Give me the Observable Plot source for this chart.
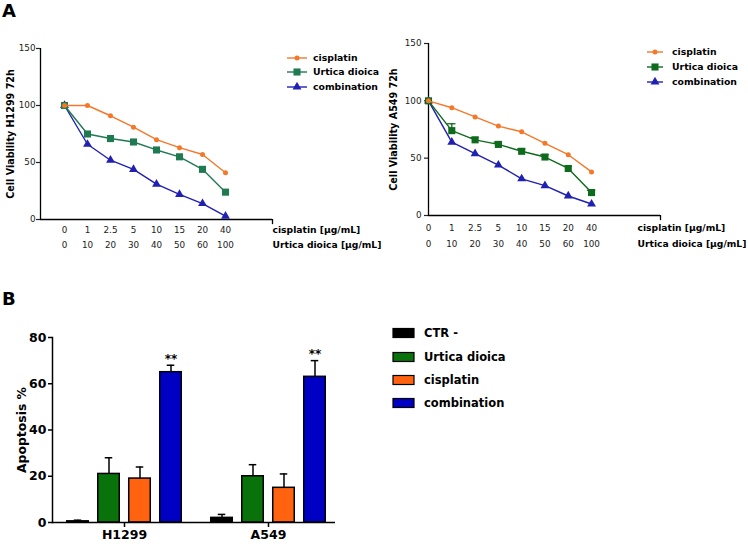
<!DOCTYPE html>
<html><head><meta charset="utf-8">
<script src="https://cdn.jsdelivr.net/npm/d3@7"></script>
<script src="https://cdn.jsdelivr.net/npm/@observablehq/plot@0.6"></script>
<style>
body{margin:0;background:#fff;}
#fig{position:relative;width:748px;height:549px;overflow:hidden;font-family:"DejaVu Sans",sans-serif;background:#fff;}
#fig > svg{position:absolute;overflow:visible;}
</style></head><body><div id="fig"></div>
<script>
// ---------- data ----------
const cisplatinDoses = ["0","1","2.5","5","10","15","20","40"];
const urticaDoses = ["0","10","20","30","40","50","60","100"];
const seriesNames = ["cisplatin","Urtica dioica","combination"];

const h1299Cisplatin   = [100,100,91,81,70,63,57,41];
const h1299Urtica      = [100,75,71,68,61,55,44,24];
const h1299Combination = [100,66,52,44,31,22,14,3];

const a549Cisplatin    = [100,94,86,78,73,63,53,38];
const a549Urtica       = [100,74,66,62,56,51,41,20];
const a549UrticaErr    = [0,6,2,2,2,2,2,2];
const a549Combination  = [100,64,54,44,32,26,17,10];

const cellLines  = ["H1299","A549"];
const treatments = ["CTR -","Urtica dioica","cisplatin","combination"];
const apoptosisH1299    = [0.5,21,19,65];
const apoptosisH1299Err = [0.5,7,5,3];
const apoptosisA549     = [2,20,15,63];
const apoptosisA549Err  = [1.5,5,6,7];
const significance = ["","","","**"];

// ---------- styling ----------
const FONT = "DejaVu Sans";
const orange = "#f5782a", blue = "#2020b2";
const barColors = ["#000000","#0a720a","#ff6310","#0000c4"];

const fig = document.getElementById("fig");

function place(el, left, top) {
  el.style.left = left + "px"; el.style.top = top + "px";
  fig.appendChild(el);
}

function viabilityPlot(o) {
  const idx = cisplatinDoses.map((_, i) => i);
  const ser = [
    {name:"combination", vals:o.comb, color:blue, symbol:"triangle", r:3.3},
    {name:"Urtica dioica", vals:o.urt, color:o.green, symbol:"square", r:4.0, err:o.urtErr},
    {name:"cisplatin", vals:o.cis, color:orange, symbol:"circle", r:2.5}
  ];
  const marks = [];
  for (const s of ser) {
    const rows = s.vals.map((v, i) => ({i, v, e: s.err ? s.err[i] : 0}));
    if (s.err) {
      const er = rows.filter(d => d.e > 0);
      marks.push(Plot.ruleX(er, {x:"i", y1:"v", y2:d => d.v + d.e, stroke:s.color, strokeWidth:1.3}));
      marks.push(Plot.ruleY(er, {x1:d => d.i - 0.18, x2:d => d.i + 0.18, y:d => d.v + d.e, stroke:s.color, strokeWidth:1.3}));
    }
    marks.push(Plot.line(rows, {x:"i", y:"v", stroke:s.color, strokeWidth:1.4}));
    marks.push(Plot.dot(rows, {x:"i", y:"v", fill:s.color, symbol:s.symbol, r:s.r}));
  }
  return Plot.plot({
    width:o.width, height:260,
    marginLeft:o.ml, marginRight:o.mr, marginTop:o.mt, marginBottom:o.mb,
    style:{fontFamily:FONT, background:"transparent", overflow:"visible"},
    x:{domain:o.xDomain, axis:null},
    y:{domain:[0,150], axis:null},
    marks:[
      Plot.ruleY([0], {stroke:"#000", strokeWidth:1.3}),
      Plot.ruleX([o.xDomain[0]], {y1:0, y2:150, stroke:"#000", strokeWidth:1.3}),
      Plot.ruleX([o.xDomain[1]], {y1:0, y2:-4.5, stroke:"#000", strokeWidth:1.3}),
      Plot.axisY({ticks:[0,50,100,150], tickSize:4, tickPadding:o.tp, fontSize:8.8, label:null, color:"#222", strokeWidth:1.2}),
      Plot.text(idx, {x:d => d, text:d => cisplatinDoses[d], frameAnchor:"bottom", dy:o.row1, fontSize:8.8, fill:"#222"}),
      Plot.text(idx, {x:d => d, text:d => urticaDoses[d], frameAnchor:"bottom", dy:o.row2, fontSize:8.8, fill:"#222"}),
      Plot.text(["cisplatin [µg/mL]"], {frameAnchor:"bottom-right", dx:o.tdx, dy:o.row1, textAnchor:"start", fontWeight:"bold", fontSize:9.2}),
      Plot.text(["Urtica dioica [µg/mL]"], {frameAnchor:"bottom-right", dx:o.tdx, dy:o.row2, textAnchor:"start", fontWeight:"bold", fontSize:9.2}),
      Plot.text([o.yLabel], {frameAnchor:"left", textAnchor:"middle", rotate:-90, dx:-o.lo, fontWeight:"bold", fontSize:9.6}),
      ...marks
    ]
  });
}

place(viabilityPlot({
  width:380, ml:40, mr:108, mt:48, mb:41, xDomain:[-1.043, 9.043], tp:1,
  row1:13, row2:28, tdx:0, lo:30, green:"#1f7a52",
  yLabel:"Cell Viability H1299 72h",
  cis:h1299Cisplatin, urt:h1299Urtica, comb:h1299Combination
}), 0, 0);

place(viabilityPlot({
  width:378, ml:58, mr:88, mt:43, mb:45, xDomain:[0, 9.96], tp:3,
  row1:15, row2:31, tdx:-23, lo:35, green:"#0e6a1c",
  yLabel:"Cell Viability A549 72h",
  cis:a549Cisplatin, urt:a549Urtica, urtErr:a549UrticaErr, comb:a549Combination
}), 370, 0);

// ---------- panel B ----------
const apo = [];
cellLines.forEach((g, gi) => {
  const vals = gi === 0 ? apoptosisH1299 : apoptosisA549;
  const errs = gi === 0 ? apoptosisH1299Err : apoptosisA549Err;
  treatments.forEach((t, k) => apo.push({group:g, treatment:t, k, value:vals[k], err:errs[k], sig:significance[k]}));
});
const bWidth = 380, bML = 52, bMR = 45;
const xPad = {paddingInner:0.1, paddingOuter:0.026, align:0.77};
const bandW = d3.scaleBand(cellLines, [bML, bWidth - bMR]).paddingInner(xPad.paddingInner).paddingOuter(xPad.paddingOuter).bandwidth();
const barW = 22, barStep = 31, capW = 8;
const barMarks = [];
treatments.forEach((t, k) => {
  const rows = apo.filter(d => d.k === k);
  const dx = (k - 1.5) * barStep;
  barMarks.push(Plot.ruleX(rows, {x:"group", y1:"value", y2:d => d.value + d.err, dx, stroke:"#000", strokeWidth:1.5}));
  barMarks.push(Plot.tickY(rows, {x:"group", y:d => d.value + d.err, dx, insetLeft:(bandW - capW) / 2, insetRight:(bandW - capW) / 2, stroke:"#000", strokeWidth:1.5}));
  barMarks.push(Plot.barY(rows, {x:"group", y:"value", dx, insetLeft:(bandW - barW) / 2, insetRight:(bandW - barW) / 2, fill:barColors[k], stroke:"#000", strokeWidth:1.5}));
  barMarks.push(Plot.text(rows.filter(d => d.sig), {x:"group", y:d => d.value + d.err, text:"sig", dx, dy:-6, fontSize:12, fontWeight:"bold"}));
});

place(Plot.plot({
  width:bWidth, height:269, marginLeft:bML, marginRight:bMR, marginTop:57, marginBottom:27,
  style:{fontFamily:FONT, background:"transparent", overflow:"visible"},
  x:{domain:cellLines, ...xPad, axis:null},
  y:{domain:[0,80], axis:null},
  marks:[
    ...barMarks,
    Plot.frame({anchor:"left", stroke:"#000", strokeWidth:1.5}),
    Plot.ruleY([0], {stroke:"#000", strokeWidth:1.5}),
    Plot.axisY({ticks:[0,20,40,60,80], tickSize:4, tickPadding:2, fontSize:12.5, fontWeight:"bold", label:null, strokeWidth:1.5}),
    Plot.axisX({tickSize:5, tickPadding:3, fontSize:12.5, fontWeight:"bold", label:null, strokeWidth:1.5}),
    Plot.text(["Apoptosis %"], {frameAnchor:"left", textAnchor:"middle", rotate:-90, dx:-30, fontWeight:"bold", fontSize:12.4})
  ]
}), 0, 280);

// ---------- legends and panel letters ----------
const ov = d3.create("svg").attr("width", 748).attr("height", 549)
  .style("left", "0px").style("top", "0px").style("pointer-events", "none")
  .attr("font-family", FONT);
ov.append("text").attr("x", 2).attr("y", 17).attr("font-size", 18).attr("font-weight", "bold").text("A");
ov.append("text").attr("x", 2).attr("y", 305).attr("font-size", 18).attr("font-weight", "bold").text("B");

function lineLegend(x0, x1, tx, ys, green, fs) {
  const items = [
    {name:seriesNames[0], color:orange, sym:d3.symbolCircle, r:2.5},
    {name:seriesNames[1], color:green, sym:d3.symbolSquare, r:4.0},
    {name:seriesNames[2], color:blue, sym:d3.symbolTriangle, r:3.3}
  ];
  items.forEach((it, i) => {
    const y = ys[i];
    ov.append("line").attr("x1", x0).attr("x2", x1).attr("y1", y).attr("y2", y).attr("stroke", it.color).attr("stroke-width", 1.4);
    ov.append("path").attr("d", d3.symbol(it.sym, Math.PI * it.r * it.r)()).attr("transform", `translate(${(x0 + x1) / 2},${y})`).attr("fill", it.color);
    ov.append("text").attr("x", tx).attr("y", y).attr("dy", "0.35em").attr("font-size", fs).attr("font-weight", "bold").text(it.name);
  });
}
lineLegend(287, 307, 313, [58, 72, 87], "#1f7a52", 9.3);
lineLegend(647, 663, 672, [52, 67, 82], "#0e6a1c", 9.3);

[333, 357, 380, 403].forEach((y, k) => {
  ov.append("rect").attr("x", 393).attr("y", y - 4.5).attr("width", 21).attr("height", 9).attr("fill", barColors[k]).attr("stroke", "#000").attr("stroke-width", 1.2);
  ov.append("text").attr("x", 424).attr("y", y).attr("dy", "0.35em").attr("font-size", 11.5).attr("font-weight", "bold").text(treatments[k]);
});
fig.appendChild(ov.node());
</script></body></html>
